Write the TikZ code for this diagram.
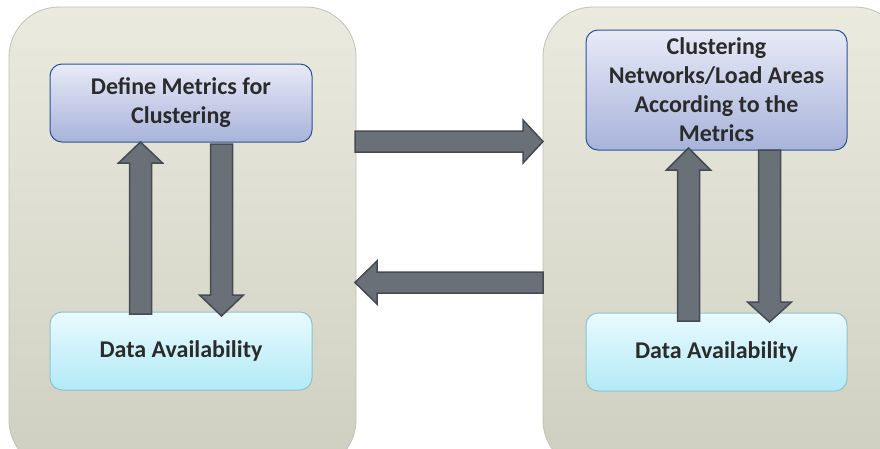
\documentclass[tikz,border=0pt]{standalone}
\usepackage{fontspec}
\setmainfont{Carlito}
\definecolor{panelTop}{HTML}{EAEADF}
\definecolor{panelBot}{HTML}{CFCFC1}
\definecolor{panelLine}{HTML}{C2C2B4}
\definecolor{blueTop}{HTML}{E8EAF7}
\definecolor{blueBot}{HTML}{A8B3DA}
\definecolor{blueLine}{HTML}{2A5298}
\definecolor{cyanTop}{HTML}{E9FAFE}
\definecolor{cyanBot}{HTML}{B2EAF6}
\definecolor{cyanLine}{HTML}{8CC4CE}
\definecolor{arrFill}{HTML}{6A7077}
\definecolor{arrLine}{HTML}{464B51}
\definecolor{txt}{HTML}{2B2B2B}
\tikzset{
  panel/.style={rounded corners=50pt, top color=panelTop, bottom color=panelBot, draw=panelLine, line width=0.8pt},
  metricbox/.style={rounded corners=12pt, top color=blueTop, bottom color=blueBot, draw=blueLine, line width=1pt,
    align=center, text=txt, font=\fontsize{24}{29}\selectfont\bfseries, inner sep=0pt},
  databox/.style={rounded corners=12pt, top color=cyanTop, bottom color=cyanBot, draw=cyanLine, line width=1pt,
    align=center, text=txt, font=\fontsize{24}{29}\selectfont\bfseries, inner sep=0pt},
  blockarrow/.style={fill=arrFill, draw=arrLine, line width=1.5pt, line join=miter}
}
\newcommand\vblockarrow[4]{%
  \draw[blockarrow] ({#1-11},#2) -- ({#1-11},#3) -- ({#1-22},#3) -- (#1,#4) -- ({#1+22},#3) -- ({#1+11},#3) -- ({#1+11},#2) -- cycle;}
\newcommand\hblockarrow[4]{%
  \draw[blockarrow] (#2,{#1-10.5}) -- (#3,{#1-10.5}) -- (#3,{#1-21.5}) -- (#4,#1) -- (#3,{#1+21.5}) -- (#3,{#1+10.5}) -- (#2,{#1+10.5}) -- cycle;}
\begin{document}
\begin{tikzpicture}[x=1pt,y=-1pt]
\clip (0,0) rectangle (880,448);
\fill[white] (0,0) rectangle (880,448);
% panels
\path[panel] (9,7) rectangle (356,470);
\path[panel] (543,7) rectangle (905,470);
% boxes
\node[metricbox, minimum width=262pt, minimum height=78pt] (defm) at (181,103) {Define Metrics for\\Clustering};
\node[databox, minimum width=262pt, minimum height=78pt] (dataL) at (181,351) {Data Availability};
\node[metricbox, minimum width=261pt, minimum height=120pt] (clus) at (716.5,90) {Clustering\\Networks/Load Areas\\According to the\\Metrics};
\node[databox, minimum width=261pt, minimum height=78pt] (dataR) at (716.5,352) {Data Availability};
% vertical arrows
\vblockarrow{140.5}{314}{163}{142}
\vblockarrow{221.5}{144}{295}{316}
\vblockarrow{688.5}{321}{170}{148}
\vblockarrow{769.5}{150}{302}{322}
% horizontal arrows
\hblockarrow{141.5}{355}{523}{543}
\hblockarrow{282.5}{543}{377}{355}
\end{tikzpicture}
\end{document}
